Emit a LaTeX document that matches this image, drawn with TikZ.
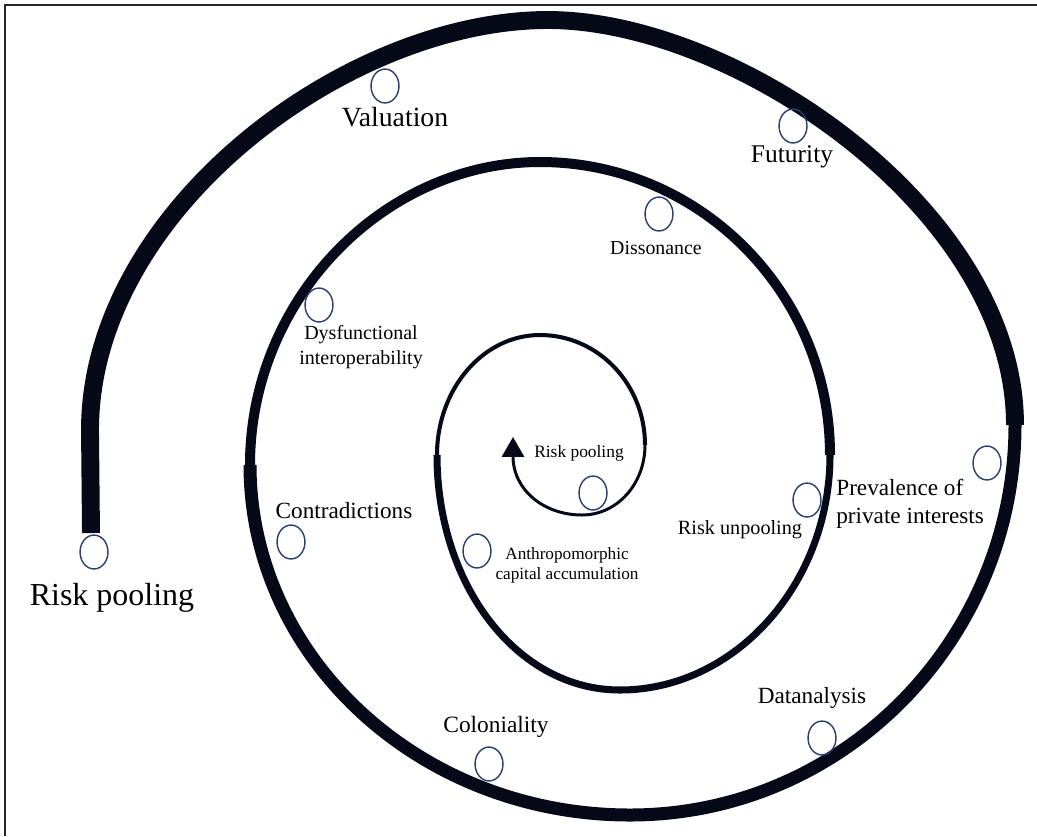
\documentclass[tikz,border=0pt]{standalone}
\usepackage{fontspec}
\setmainfont{Liberation Serif}
\usetikzlibrary{arrows.meta,shapes.geometric}
\definecolor{spiralink}{RGB}{6,10,24}
\definecolor{beadblue}{RGB}{42,62,112}

\begin{document}
\begin{tikzpicture}[x=0.02cm, y=-0.02cm,
    bead/.style={draw=beadblue, line width=0.8pt, ellipse, inner sep=0pt,
                 minimum width=15.9pt, minimum height=19.3pt},
    lbl/.style={text=black, inner sep=0pt, align=center},
    turn/.style={draw=spiralink}]
    \useasboundingbox (0,0) rectangle (1037,836);
    % Frame (top and left edge only)
    \draw[line width=1.1pt, black!85] (5,836) -- (5,5) -- (1037,5);

    % Spiral, one half turn at a time, getting thinner inwards
    \draw[turn, line width=10.2pt] (91,533) -- (90,430) .. controls (90,212) and (345,20) .. (548,20)
        .. controls (735,20) and (1015,210) .. (1015,425);
    \draw[turn, line width=7.4pt] (1015,425) .. controls (1015,640) and (843,815) .. (630,815)
        .. controls (420,815) and (250,658) .. (250,465);
    \draw[turn, line width=5.7pt] (250,465) .. controls (250,298) and (385,162) .. (540,162)
        .. controls (700,162) and (830,293) .. (830,455);
    \draw[turn, line width=4pt] (830,455) .. controls (830,585) and (734,690) .. (620,690)
        .. controls (517,690) and (437,585) .. (437,455);
    \draw[turn, line width=2.3pt] (437,455) .. controls (437,389) and (483,335) .. (540,335)
        .. controls (598,335) and (645,384) .. (645,445);
    \draw[turn, line width=1.7pt, -{Triangle[width=12.5pt, length=11.3pt]}]
        (645,445) .. controls (645,484) and (617,515) .. (582,515)
        .. controls (544,515) and (513,490) .. (513,437);

    % Beads on the spiral
    \node[bead] (b1) at (94,552) {};
    \node[bead] (b2) at (385,86) {};
    \node[bead] (b3) at (793,126) {};
    \node[bead] (b4) at (659,214) {};
    \node[bead] (b5) at (319,305) {};
    \node[bead] (b6) at (291,542) {};
    \node[bead] (b7) at (477,551) {};
    \node[bead] (b8) at (593,493) {};
    \node[bead] (b9) at (807,500) {};
    \node[bead] (b10) at (987,463) {};
    \node[bead] (b11) at (489,764) {};
    \node[bead] (b12) at (822,738) {};

    % Labels
    \node[lbl, font=\fontsize{18.2}{22}\selectfont] (poolout) at (112,598) {Risk pooling};
    \node[lbl, font=\fontsize{15.8}{19}\selectfont] (valu) at (395,117) {Valuation};
    \node[lbl, font=\fontsize{14.5}{17}\selectfont] (futu) at (792,157) {Futurity};
    \node[lbl, font=\fontsize{11.3}{14}\selectfont] (disso) at (656,248) {Dissonance};
    \node[lbl, font=\fontsize{11.4}{14.2}\selectfont] (dysf) at (361,347) {Dysfunctional\\interoperability};
    \node[lbl, font=\fontsize{13.2}{16}\selectfont] (contra) at (344,511) {Contradictions};
    \node[lbl, font=\fontsize{9.8}{11.3}\selectfont] (anthro) at (567,565) {Anthropomorphic\\capital accumulation};
    \node[lbl, font=\fontsize{9.9}{12}\selectfont] (poolin) at (579,453) {Risk pooling};
    \node[lbl, font=\fontsize{11.5}{14}\selectfont] (unpool) at (740,530) {Risk unpooling};
    \node[lbl, font=\fontsize{13.2}{15.9}\selectfont, align=left, anchor=west] (preval) at (836,504) {Prevalence of\\private interests};
    \node[lbl, font=\fontsize{13.3}{16}\selectfont] (colon) at (496,727) {Coloniality};
    \node[lbl, font=\fontsize{13.2}{16}\selectfont] (datan) at (812,698) {Datanalysis};
\end{tikzpicture}
\end{document}
